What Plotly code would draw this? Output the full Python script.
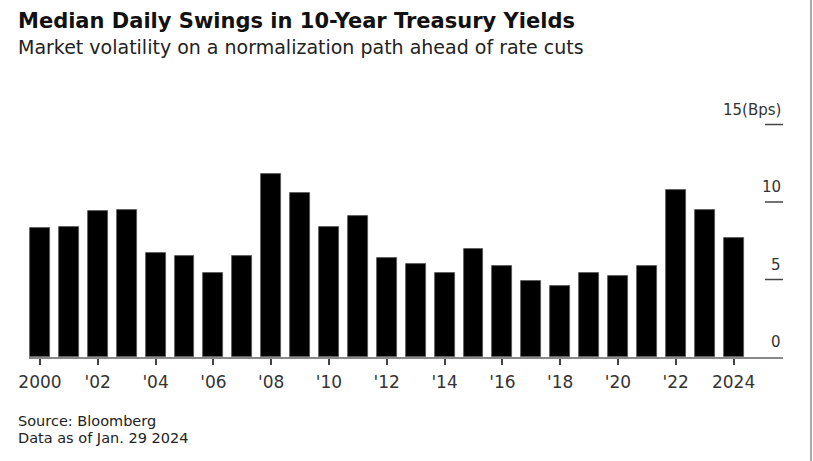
import plotly.graph_objects as go

years = list(range(2000, 2025))
swings = [8.3, 8.4, 9.4, 9.5, 6.7, 6.5, 5.4, 6.5, 11.8, 10.6, 8.4, 9.1, 6.4,
          6.0, 5.4, 7.0, 5.9, 4.9, 4.6, 5.4, 5.2, 5.9, 10.8, 9.5, 7.7]
tick_years = list(range(2000, 2025, 2))
tick_labels = ["2000", "'02", "'04", "'06", "'08", "'10", "'12", "'14", "'16",
               "'18", "'20", "'22", "2024"]
y_ticks = [0, 5, 10, 15]
y_tick_labels = ["0", "5", "10", "15(Bps)"]

W, H = 813, 461
L, R, T, B = 29, 30, 109, 104
PW, PH = W - L - R, H - T - B

def px(x):
    return (x - L) / PW

def py(y):
    return (H - B - y) / PH

FONT = "DejaVu Sans, Liberation Sans, sans-serif"

fig = go.Figure(go.Bar(
    x=years, y=swings, width=0.69,
    marker=dict(color="#000000", line=dict(color="#555555", width=0.8)),
))

annotations = [
    dict(text="<b>Median Daily Swings in 10-Year Treasury Yields</b>",
         x=px(16), y=py(21), xref="paper", yref="paper", xanchor="left",
         yanchor="middle", showarrow=False,
         font=dict(family=FONT, size=21, color="#111111")),
    dict(text="Market volatility on a normalization path ahead of rate cuts",
         x=px(16), y=py(47), xref="paper", yref="paper", xanchor="left",
         yanchor="middle", showarrow=False,
         font=dict(family=FONT, size=19, color="#222222")),
    dict(text="Source: Bloomberg",
         x=px(16), y=py(421), xref="paper", yref="paper", xanchor="left",
         yanchor="middle", showarrow=False,
         font=dict(family=FONT, size=14.5, color="#222222")),
    dict(text="Data as of Jan. 29 2024",
         x=px(16), y=py(438), xref="paper", yref="paper", xanchor="left",
         yanchor="middle", showarrow=False,
         font=dict(family=FONT, size=14.5, color="#222222")),
]
shapes = []
for v, lab in zip(y_ticks, y_tick_labels):
    annotations.append(dict(text=lab, x=1, y=v, xref="paper", yref="y",
                            xanchor="right", yanchor="middle", yshift=15,
                            showarrow=False,
                            font=dict(family=FONT, size=15, color="#333333")))
    if v > 0:
        shapes.append(dict(type="line", xref="paper", yref="y",
                           x0=px(765), x1=1, y0=v, y1=v,
                           line=dict(color="#444444", width=1.5)))

shapes.append(dict(type="line", xref="paper", yref="paper",
                   x0=px(811), x1=px(811), y0=py(0), y1=py(H),
                   line=dict(color="#aaaaaa", width=2)))

fig.update_layout(
    width=W, height=H,
    margin=dict(l=L, r=R, t=T, b=B),
    paper_bgcolor="white", plot_bgcolor="white",
    showlegend=False,
    annotations=annotations,
    shapes=shapes,
    bargap=0,
    xaxis=dict(range=[1999.62, 2025.71], tickmode="array",
               tickvals=tick_years, ticktext=tick_labels,
               showgrid=False, zeroline=False,
               showline=True, linecolor="#888888", linewidth=1.5,
               ticks="outside", ticklen=6, tickcolor="#444444", tickwidth=1.5,
               ticklabelstandoff=3,
               tickfont=dict(family=FONT, size=17, color="#333333")),
    yaxis=dict(range=[0, 16], showgrid=False, zeroline=False,
               showticklabels=False, showline=False),
)

fig.write_html("out.html")
